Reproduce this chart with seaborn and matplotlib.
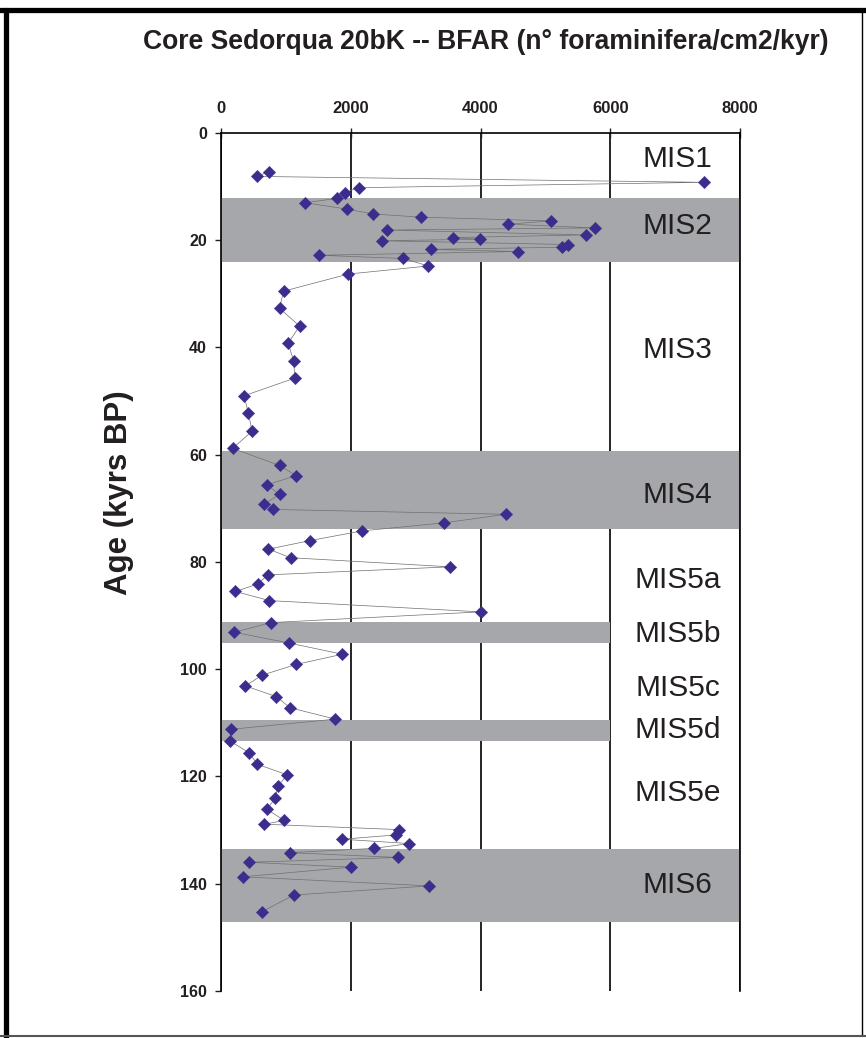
import matplotlib
matplotlib.use("Agg")
import matplotlib.pyplot as plt
from matplotlib.lines import Line2D
import pandas as pd
import seaborn as sns

# Age (kyrs BP) and BFAR values, in depth order
age = [7.2, 8.1, 9.2, 10.2, 11.1, 12.2, 13.0, 14.2, 15.1, 15.7, 16.4, 17.0,
       17.7, 18.1, 19.0, 19.5, 19.8, 20.1, 20.8, 21.3, 21.7, 22.1, 22.8, 23.4,
       24.8, 26.3, 29.5, 32.7, 36.0, 39.2, 42.5, 45.7, 49.0, 52.3, 55.6, 58.8,
       62.0, 63.9, 65.6, 67.4, 69.2, 70.2, 71.1, 72.7, 74.2, 76.0, 77.6, 79.2,
       80.9, 82.4, 84.1, 85.5, 87.2, 89.3, 91.3, 93.1, 95.1, 97.2, 99.1, 101.1,
       103.1, 105.1, 107.2, 109.3, 111.2, 113.4, 115.6, 117.7, 119.7, 121.8,
       124.0, 126.1, 128.2, 128.9, 129.9, 130.9, 131.7, 132.5, 133.4, 134.2,
       135.1, 136.0, 136.9, 138.7, 140.4, 142.1, 145.2]
bfar = [744, 551, 7440, 2121, 1912, 1791, 1295, 1945, 2342, 3086, 5080, 4425,
        5758, 2562, 5620, 3582, 3995, 2480, 5345, 5262, 3234, 4573, 1515, 2810,
        3196, 1965, 964, 902, 1211, 1036, 1119, 1139, 356, 423, 479, 180,
        902, 1160, 706, 902, 670, 799, 4387, 3438, 2175, 1376, 732, 1072,
        3531, 722, 567, 222, 747, 4005, 773, 206, 1046, 1871, 1160, 634,
        376, 851, 1067, 1763, 155, 139, 438, 557, 1021, 876,
        840, 706, 974, 670, 2737, 2691, 1866, 2902, 2366, 1057,
        2722, 438, 2010, 335, 3212, 1124, 634]

# glacial / cold stages shaded
band_start = [12.1, 59.3, 91.2, 109.5, 133.6]
band_end = [24.1, 73.9, 95.1, 113.4, 147.2]
band_bfar_max = [8000, 8000, 6000, 6000, 8000]

mis_names = ["MIS1", "MIS2", "MIS3", "MIS4", "MIS5a", "MIS5b", "MIS5c",
             "MIS5d", "MIS5e", "MIS6"]
mis_ages = [4.8, 17.3, 40.5, 67.5, 83.4, 93.4, 103.5, 111.3, 123.1, 140.2]

x_ticks = [0, 2000, 4000, 6000, 8000]
y_ticks = [0, 20, 40, 60, 80, 100, 120, 140, 160]

df = pd.DataFrame({"age": age, "bfar": bfar})

sns.set_style("white")
plt.rcParams["font.family"] = ["Liberation Sans", "DejaVu Sans"]

ink = "#231f20"
fig = plt.figure(figsize=(8.66, 10.38), dpi=100)
ax = fig.add_axes([0.2552, 0.04528, 0.5993, 0.8266])

for y0, y1, xm in zip(band_start, band_end, band_bfar_max):
    ax.axhspan(y0, y1, xmin=0, xmax=xm / 8000, color="#a5a7aa", lw=0, zorder=1)

sns.lineplot(data=df, x="bfar", y="age", orient="y", sort=False,
             estimator=None, color="#707070", lw=0.5, ax=ax, zorder=3)
sns.scatterplot(data=df, x="bfar", y="age", marker="D", s=40,
                color="#3b2c8e", edgecolor="#3b2c8e", linewidth=0.3,
                ax=ax, zorder=4)

for name, a in zip(mis_names, mis_ages):
    ax.text(7040, a, name, ha="center", va="center", fontsize=21.5,
            color=ink, zorder=5)

ax.set_xlim(0, 8000)
ax.set_ylim(160, 0)
ax.set_xticks(x_ticks)
ax.set_yticks(y_ticks)
ax.xaxis.tick_top()
ax.set_xlabel("")
ax.set_ylabel("")
ax.tick_params(axis="x", direction="inout", length=7, width=1, pad=9,
               labelsize=12, colors=ink)
ax.tick_params(axis="y", direction="out", length=4, width=1, pad=6,
               labelsize=11.5, colors=ink, left=True)
for lab in ax.get_xticklabels() + ax.get_yticklabels():
    lab.set_fontweight("bold")

ax.xaxis.grid(True, color="black", lw=1.2, zorder=2)
ax.yaxis.grid(False)
for side in ["top", "left", "right"]:
    ax.spines[side].set_visible(True)
    ax.spines[side].set_color("black")
    ax.spines[side].set_linewidth(1.2)
ax.spines["bottom"].set_visible(False)

fig.text(485.5 / 866, 1 - 42 / 1038,
         "Core Sedorqua 20bK -- BFAR (n° foraminifera/cm2/kyr)",
         ha="center", va="center", fontsize=19.1, fontweight="bold", color=ink)
fig.text(119 / 866, 1 - 493 / 1038, "Age (kyrs BP)", rotation=90,
         ha="center", va="center", fontsize=22.5, fontweight="bold", color=ink)

# page frame
fig.add_artist(Line2D([0, 1], [1 - 9.5 / 1038] * 2, color="black", lw=3.8))
fig.add_artist(Line2D([6 / 866] * 2, [0, 1 - 9.5 / 1038], color="black", lw=3.8))
fig.add_artist(Line2D([862 / 866] * 2, [2 / 1038, 1 - 9.5 / 1038],
                      color="black", lw=1))
fig.add_artist(Line2D([0, 1], [2 / 1038] * 2, color="#555555", lw=1.5))

fig.savefig("out.png", dpi=100)
